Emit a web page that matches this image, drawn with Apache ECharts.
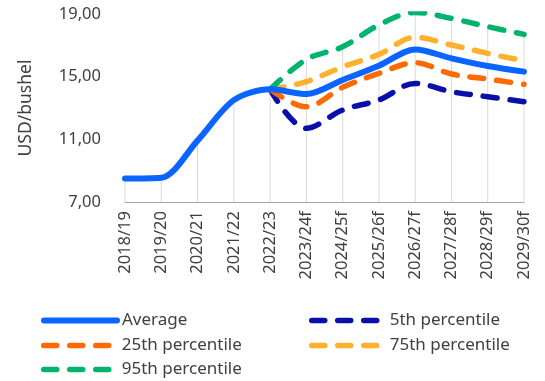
<!DOCTYPE html>
<html>
<head>
<meta charset="utf-8">
<script src="https://cdn.jsdelivr.net/npm/echarts@6/dist/echarts.min.js"></script>
<style>
  html, body { margin: 0; padding: 0; background: #ffffff; }
  #chart { width: 545px; height: 381px; }
</style>
</head>
<body>
<div id="chart"></div>
<script>
// Marketing years (f = forecast)
const categories = ['2018/19', '2019/20', '2020/21', '2021/22', '2022/23', '2023/24f',
  '2024/25f', '2025/26f', '2026/27f', '2027/28f', '2028/29f', '2029/30f'];

// Prices in USD/bushel
const average = [8.50, 8.55, 10.92, 13.50, 14.19, 13.89, 14.79, 15.70, 16.74, 16.17, 15.68, 15.32];
const p5  = [null, null, null, null, 14.19, 11.70, 12.87, 13.51, 14.57, 14.04, 13.72, 13.40];
const p25 = [null, null, null, null, 14.19, 13.08, 14.32, 15.21, 15.89, 15.17, 14.85, 14.51];
const p75 = [null, null, null, null, 14.19, 14.68, 15.63, 16.42, 17.51, 17.02, 16.49, 16.00];
const p95 = [null, null, null, null, 14.19, 16.10, 16.91, 18.30, 19.10, 18.72, 18.19, 17.70];

const yTicks = { min: 7, max: 19, interval: 4 };

// Drop lines reach from the axis up to the highest series at each year
const dropTop = categories.map((_, i) =>
  Math.max(...[average, p5, p25, p75, p95].map(s => s[i] == null ? -Infinity : s[i])));

const FONT = 'Noto Sans';
const TEXT = '#404040';

function dashed(name, data, color) {
  return {
    name, type: 'line', data, smooth: 0.35, showSymbol: false, symbol: 'none',
    connectNulls: false, z: 3,
    lineStyle: { color, width: 5.5, type: [14, 13], cap: 'round' },
    itemStyle: { color }
  };
}

function legendAt(name, left, top, solid) {
  return {
    data: [name], left, top, itemWidth: 73, itemHeight: 12, itemGap: 5,
    itemStyle: { opacity: 0 },
    lineStyle: { width: solid ? 6 : 5.5, type: solid ? 'solid' : [13, 13], cap: 'round' },
    textStyle: { fontFamily: FONT, fontSize: 17, color: TEXT }
  };
}

const chart = echarts.init(document.getElementById('chart'), null, { renderer: 'canvas' });
chart.setOption({
  animation: false,
  grid: { left: 125, right: 21, top: 14, bottom: 179, containLabel: false },
  legend: [
    legendAt('Average', 36, 307, true),
    legendAt('5th percentile', 304, 307),
    legendAt('25th percentile', 36, 332),
    legendAt('75th percentile', 304, 332),
    legendAt('95th percentile', 36, 356)
  ],
  xAxis: {
    type: 'category', data: categories, boundaryGap: false,
    axisLine: { lineStyle: { color: '#A6A6A6', width: 1 } },
    axisTick: { show: false },
    axisLabel: { rotate: 90, margin: 9, fontFamily: FONT, fontSize: 16.5, color: TEXT, interval: 0 },
    splitLine: { show: false }
  },
  yAxis: {
    type: 'value', min: yTicks.min, max: yTicks.max, interval: yTicks.interval,
    name: 'USD/bushel', nameLocation: 'middle', nameGap: 90, nameRotate: 90,
    nameTextStyle: { fontFamily: FONT, fontSize: 17.5, color: TEXT },
    axisLine: { show: false }, axisTick: { show: false },
    axisLabel: { margin: 24, fontFamily: FONT, fontSize: 16.5, color: TEXT,
      formatter: v => v.toFixed(2).replace('.', ',') },
    splitLine: { show: false }
  },
  series: [
    {
      name: 'drop', type: 'bar', data: dropTop, barWidth: 1, z: 1,
      itemStyle: { color: '#D9D9D9' }, silent: true, legendHoverLink: false
    },
    dashed('5th percentile', p5, '#0A0FA8'),
    dashed('25th percentile', p25, '#FF6A00'),
    dashed('75th percentile', p75, '#FFB12E'),
    dashed('95th percentile', p95, '#00B46E'),
    {
      name: 'Average', type: 'line', data: average, smooth: 0.3, showSymbol: false, symbol: 'none', z: 4,
      lineStyle: { color: '#0A64FF', width: 6, cap: 'round' },
      itemStyle: { color: '#0A64FF' }
    }
  ]
});
</script>
</body>
</html>
